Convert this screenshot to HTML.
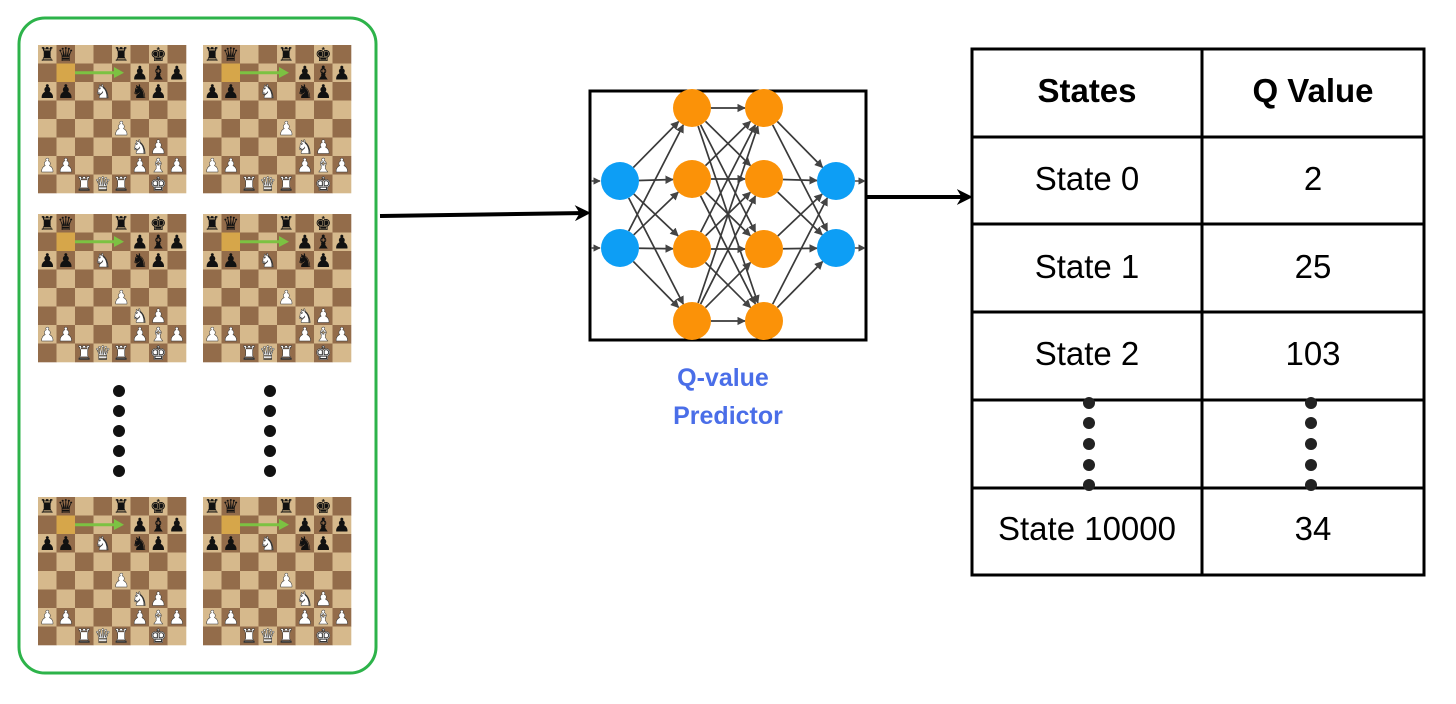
<!DOCTYPE html>
<html><head><meta charset="utf-8"><style>
html,body{margin:0;padding:0;background:#fff;}
svg{display:block;font-family:"Liberation Sans","DejaVu Sans",sans-serif;}
</style></head><body>
<svg id="s" width="1456" height="704" viewBox="0 0 1456 704" xmlns="http://www.w3.org/2000/svg">
<defs>
<marker id="ah" viewBox="0 0 10 10" refX="9" refY="5" markerWidth="5" markerHeight="5" orient="auto"><path d="M0,0 L10,5 L0,10 z" fill="#444"/></marker>
<marker id="bh" viewBox="0 0 10 10" refX="7" refY="5" markerWidth="4" markerHeight="4" orient="auto"><path d="M0,0 L10,5 L0,10 L3,5 z" fill="#000"/></marker>
</defs>
<rect x="19" y="18" width="357" height="655" rx="26" fill="none" stroke="#2db34a" stroke-width="3"/>
<g id="boards"></g>
<g fill="#111">
<circle cx="119" cy="391" r="6"/><circle cx="119" cy="411" r="6"/><circle cx="119" cy="431" r="6"/><circle cx="119" cy="451" r="6"/><circle cx="119" cy="471" r="6"/>
<circle cx="270" cy="391" r="6"/><circle cx="270" cy="411" r="6"/><circle cx="270" cy="431" r="6"/><circle cx="270" cy="451" r="6"/><circle cx="270" cy="471" r="6"/>
</g>
<line x1="380" y1="216" x2="586" y2="213" stroke="#000" stroke-width="4" marker-end="url(#bh)"/>
<rect x="590" y="91" width="276" height="249" fill="#fff" stroke="#000" stroke-width="3"/>
<g id="net"></g>
<line x1="866" y1="197" x2="968" y2="197" stroke="#000" stroke-width="4" marker-end="url(#bh)"/>
<text x="723" y="386" text-anchor="middle" font-size="25" font-weight="bold" fill="#4a6ee8">Q-value</text>
<text x="728" y="424" text-anchor="middle" font-size="25" font-weight="bold" fill="#4a6ee8">Predictor</text>
<g stroke="#000" stroke-width="3" fill="none">
<rect x="972" y="49" width="452" height="526"/>
<line x1="1202" y1="49" x2="1202" y2="575"/>
<line x1="972" y1="137" x2="1424" y2="137"/>
<line x1="972" y1="224" x2="1424" y2="224"/>
<line x1="972" y1="312" x2="1424" y2="312"/>
<line x1="972" y1="400" x2="1424" y2="400"/>
<line x1="972" y1="488" x2="1424" y2="488"/>
</g>
<g font-size="33" text-anchor="middle" fill="#000">
<text x="1087" y="102" font-weight="bold">States</text>
<text x="1313" y="102" font-weight="bold">Q Value</text>
<text x="1087" y="190">State 0</text><text x="1313" y="190">2</text>
<text x="1087" y="278">State 1</text><text x="1313" y="278">25</text>
<text x="1087" y="365">State 2</text><text x="1313" y="365">103</text>
<text x="1087" y="540">State 10000</text><text x="1313" y="540">34</text>
</g>
<g fill="#222">
<circle cx="1089" cy="403" r="6"/><circle cx="1089" cy="423" r="6"/><circle cx="1089" cy="444" r="6"/><circle cx="1089" cy="465" r="6"/><circle cx="1089" cy="485" r="6"/>
<circle cx="1311" cy="403" r="6"/><circle cx="1311" cy="423" r="6"/><circle cx="1311" cy="444" r="6"/><circle cx="1311" cy="465" r="6"/><circle cx="1311" cy="485" r="6"/>
</g>
</svg>
<script>
var NS="http://www.w3.org/2000/svg";
function el(p,t,a,txt){var e=document.createElementNS(NS,t);for(var k in a)e.setAttribute(k,a[k]);if(txt)e.textContent=txt;p.appendChild(e);return e;}
var B=document.getElementById('boards');
var pos=[[38,45],[203,45],[38,214],[203,214],[38,497],[203,497]];
var pieces=[
[0,0,'♜','b'],[1,0,'♛','b'],[4,0,'♜','b'],[6,0,'♚','b'],
[5,1,'♟','b'],[6,1,'♝','b'],[7,1,'♟','b'],
[0,2,'♟','b'],[1,2,'♟','b'],[3,2,'♞','w'],[5,2,'♞','b'],[6,2,'♟','b'],
[4,4,'♟','w'],[5,5,'♞','w'],[6,5,'♟','w'],
[0,6,'♟','w'],[1,6,'♟','w'],[5,6,'♟','w'],[6,6,'♝','w'],[7,6,'♟','w'],
[2,7,'♜','w'],[3,7,'♛','w'],[4,7,'♜','w'],[6,7,'♚','w']];
pos.forEach(function(p){
 var g=el(B,'g',{transform:'translate('+p[0]+','+p[1]+')'});
 var s=18.5;
 for(var r=0;r<8;r++)for(var c=0;c<8;c++){
  var col=((r+c)%2==0)?'#d6b98c':'#936c4a';
  if(r==1&&c==1)col='#d6a64a';
  el(g,'rect',{x:c*s,y:r*s,width:s+0.3,height:s+0.3,fill:col});
 }
 el(g,'line',{x1:37,y1:27.7,x2:78,y2:27.7,stroke:'#7cc242','stroke-width':3});
 el(g,'path',{d:'M76,22 L86,27.7 L76,33 z',fill:'#7cc242'});
 pieces.forEach(function(q){
  el(g,'text',{x:q[0]*s+s/2,y:q[1]*s+s-2.5,'text-anchor':'middle','font-size':19,fill:q[3]=='w'?'#fff':'#111',stroke:q[3]=='w'?'#333':'none','stroke-width':0.5,'font-family':'DejaVu Sans'},q[2]);
 });
});
var N=document.getElementById('net');
var L=[[[620,181],[620,248]],[[692,108],[692,179],[692,249],[692,321]],[[764,108],[764,179],[764,249],[764,321]],[[836,181],[836,248]]];
var R=19;
for(var i=0;i<3;i++)L[i].forEach(function(a){L[i+1].forEach(function(b){
 var dx=b[0]-a[0],dy=b[1]-a[1],d=Math.sqrt(dx*dx+dy*dy);
 el(N,'line',{x1:a[0]+dx/d*R,y1:a[1]+dy/d*R,x2:b[0]-dx/d*R,y2:b[1]-dy/d*R,stroke:'#3a3a3a','stroke-width':1.7,'marker-end':'url(#ah)'});
});});
L[0].forEach(function(a){el(N,'line',{x1:591,y1:a[1],x2:600,y2:a[1],stroke:'#444','stroke-width':1.5,'marker-end':'url(#ah)'});});
L[3].forEach(function(a){el(N,'line',{x1:855,y1:a[1],x2:865,y2:a[1],stroke:'#444','stroke-width':1.5,'marker-end':'url(#ah)'});});
L.forEach(function(l,i){l.forEach(function(a){el(N,'circle',{cx:a[0],cy:a[1],r:R,fill:(i==0||i==3)?'#0d9ef5':'#fb9208'});});});
</script>
</body></html>
